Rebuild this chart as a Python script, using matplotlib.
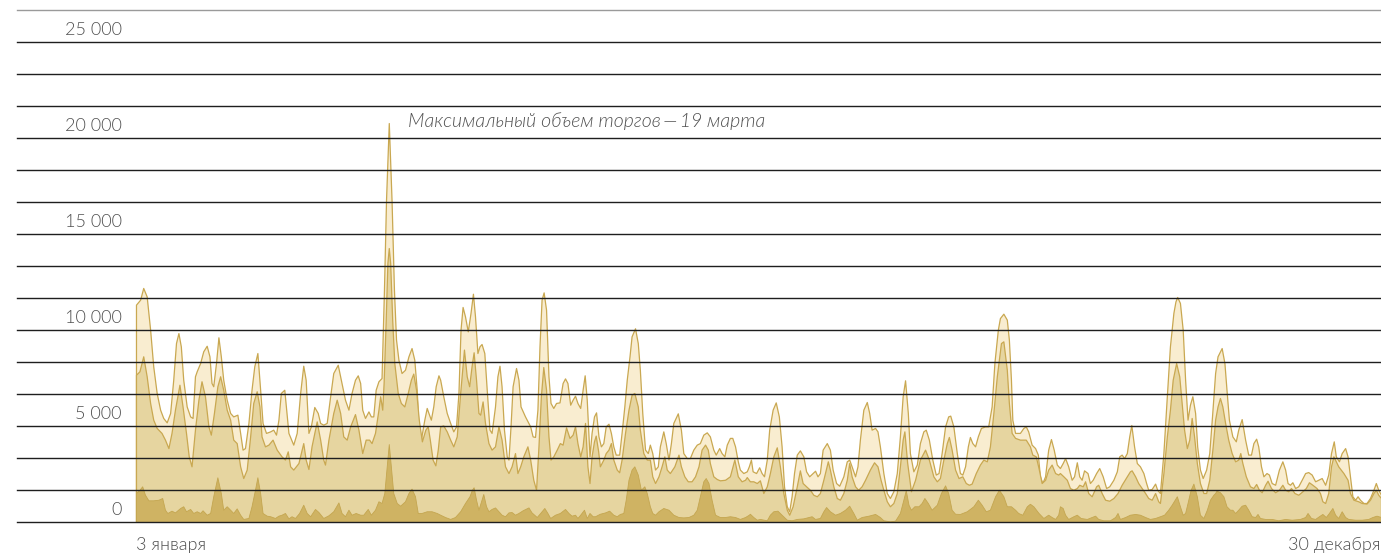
import matplotlib
matplotlib.use("Agg")
import matplotlib.pyplot as plt
import matplotlib.transforms as mtransforms

# days counted from 3 January, volumes
light_days = [0.0, 1.2, 2.1, 3.1, 4.1, 5.0, 6.0, 7.0, 7.9, 8.9, 9.9, 10.8, 11.6, 12.3, 13.0, 13.7, 14.7, 15.7, 16.4, 17.1,
              17.6, 18.6, 19.5, 20.5, 21.3, 21.9, 22.4, 23.2, 23.9, 24.6, 25.3, 26.3, 27.3, 28.2, 29.4, 30.2, 30.9, 31.6, 32.6, 33.5,
              34.3, 35.2, 36.0, 36.7, 37.7, 38.9, 39.8, 40.6, 41.3, 42.0, 43.0, 44.2, 45.6, 46.6, 47.6, 48.5, 49.2, 50.0, 50.7, 51.7,
              52.7, 53.4, 54.3, 55.3, 56.3, 57.2, 58.5, 59.4, 60.6, 61.6, 62.5, 63.5, 64.3, 65.0, 65.6, 66.4, 67.4, 68.1, 68.8, 69.5,
              70.3, 71.2, 71.9, 72.5, 73.3, 74.1, 74.8, 75.4, 76.1, 77.0, 78.0, 79.0, 79.9, 80.7, 81.4, 81.9, 82.6, 83.6, 84.3, 84.8,
              85.5, 86.2, 86.9, 87.7, 88.2, 89.1, 90.1, 91.1, 92.0, 92.8, 93.5, 94.1, 94.7, 95.4, 96.2, 97.0, 97.7, 98.3, 99.0, 99.6,
              100.2, 101.0, 101.7, 102.5, 103.1, 104.1, 104.8, 105.4, 106.0, 106.7, 107.5, 108.0, 108.6, 109.2, 110.2, 110.9, 111.5, 112.8, 114.3, 115.0,
              115.7, 116.4, 117.0, 117.6, 118.2, 118.9, 119.6, 120.2, 121.0, 121.8, 122.8, 123.7, 124.4, 125.1, 125.9, 126.6, 127.3, 128.0, 128.8, 129.5,
              130.1, 130.7, 131.5, 132.1, 132.8, 133.4, 134.1, 134.8, 135.5, 136.2, 137.0, 137.7, 138.4, 139.1, 140.1, 140.8, 141.6, 142.3, 143.1, 143.7,
              144.7, 145.5, 146.1, 146.8, 147.6, 148.4, 149.0, 149.7, 150.5, 151.3, 151.9, 152.9, 153.6, 154.4, 155.1, 155.8, 157.1, 158.0, 158.7, 159.7,
              160.6, 161.6, 162.6, 163.5, 164.5, 165.5, 166.4, 167.4, 168.1, 169.1, 169.8, 170.6, 171.3, 172.2, 172.9, 173.7, 174.5, 175.1, 176.1, 177.1,
              177.7, 178.3, 178.8, 179.8, 180.7, 181.4, 182.1, 182.9, 183.6, 184.6, 185.5, 186.4, 187.2, 187.9, 188.7, 189.4, 190.1, 190.8, 191.6, 192.5,
              193.5, 194.3, 195.2, 196.2, 196.9, 197.6, 198.3, 199.1, 200.3, 201.2, 202.0, 203.0, 203.9, 205.1, 206.1, 206.8, 207.5, 208.5, 209.2, 209.9,
              210.9, 211.9, 212.6, 213.3, 214.3, 215.0, 215.7, 216.7, 217.7, 218.6, 219.6, 220.6, 221.5, 222.3, 223.0, 223.8, 224.4, 225.4, 226.4, 227.3,
              228.3, 229.0, 229.9, 230.9, 231.9, 232.7, 233.6, 234.6, 235.5, 236.1, 237.0, 238.0, 238.9, 239.6, 240.4, 241.2, 241.8, 242.5, 243.3, 244.1,
              245.0, 246.2, 247.1, 248.1, 248.9, 249.9, 250.5, 251.5, 252.5, 253.1, 253.7, 254.1, 254.9, 256.3, 257.3, 258.0, 258.7, 259.7, 260.7, 261.5,
              262.1, 262.8, 263.6, 264.5, 265.3, 266.1, 267.0, 267.9, 268.7, 269.4, 270.3, 271.3, 272.0, 272.8, 273.5, 274.2, 274.9, 275.9, 276.6, 277.4,
              278.4, 279.3, 280.3, 281.3, 282.2, 283.4, 284.4, 285.1, 285.8, 286.5, 287.3, 288.0, 288.6, 289.4, 290.2, 291.1, 292.1, 292.9, 293.5, 294.5,
              295.5, 296.1, 296.9, 297.9, 298.9, 299.8, 300.8, 301.4, 301.9, 302.7, 303.5, 304.2, 304.9, 305.6, 306.3, 307.1, 307.7, 308.5, 309.3, 310.3,
              311.2, 312.0, 312.9, 313.6, 314.8, 315.6, 316.2, 316.9, 317.9, 318.9, 319.6, 320.6, 321.6, 322.5, 323.3, 324.0, 324.8, 325.4, 326.2, 326.9,
              327.8, 328.5, 329.3, 330.3, 331.4, 332.4, 333.2, 333.9, 334.6, 335.3, 336.1, 337.0, 338.0, 339.0, 339.9, 340.9, 341.9, 342.8, 343.8, 344.8,
              345.7, 346.5, 347.3, 347.9, 348.8, 349.6, 350.6, 351.3, 352.0, 352.7, 353.5, 354.2, 354.9, 355.9, 356.8, 357.8, 358.8, 359.5, 360.2, 361.0]
light_vol = [11320, 11580, 12190, 11750, 10020, 8110, 6720, 5850, 5420, 5190, 5680, 7410, 9320, 9840, 9150, 7410, 6020, 5500, 5420, 7590,
             7850, 8280, 8890, 9180, 8630, 7240, 7070, 8280, 9620, 8630, 7410, 6370, 5680, 5500, 5590, 4640, 3770, 3850, 5160, 6890,
             8110, 8800, 6890, 5160, 4640, 4720, 4810, 4550, 5330, 6720, 6890, 4640, 4030, 4640, 6720, 8140, 7410, 4640, 4980, 5990,
             5680, 5160, 5070, 5160, 6550, 7760, 8190, 7410, 6370, 5850, 6720, 7410, 7640, 7240, 5850, 5420, 5760, 5500, 5500, 6890,
             7330, 7500, 12080, 16770, 20780, 16770, 12080, 9500, 8450, 7760, 7930, 8630, 9060, 8450, 6890, 4980, 4290, 5330, 5940, 5680,
             5330, 6020, 7070, 7640, 7410, 6550, 5680, 5160, 4720, 4980, 6720, 10020, 11200, 10710, 9930, 10890, 11890, 10710, 8800, 9150,
             9270, 8800, 6890, 4810, 4640, 6020, 7590, 8140, 7070, 4810, 3420, 3250, 4980, 7070, 8020, 7410, 6020, 5500, 4980, 4460,
             4430, 5850, 9150, 11580, 11960, 11060, 7590, 6200, 5940, 6200, 6230, 7240, 7480, 7240, 6110, 6370, 6580, 6200, 5940, 6890,
             7640, 6370, 3420, 4640, 5500, 5710, 4460, 3940, 4110, 4980, 5120, 4640, 3940, 3510, 3510, 4640, 6020, 7410, 8630, 9670,
             10090, 9320, 7930, 5680, 3770, 3590, 4030, 3590, 2730, 2900, 3940, 4720, 4110, 3250, 4110, 5160, 5660, 4810, 3590, 3330,
             3330, 3770, 4030, 4110, 4550, 4670, 4460, 3770, 3510, 3850, 3590, 3420, 4030, 4380, 4380, 3940, 3160, 2730, 2550, 2640,
             2900, 3250, 2640, 2550, 2850, 2550, 2380, 3250, 4810, 5850, 6230, 5500, 3940, 1860, 820, 560, 1340, 2550, 3510, 3730,
             3420, 2640, 2380, 2550, 2670, 2380, 2550, 3770, 4110, 3770, 2730, 2030, 1890, 2380, 3160, 3250, 2900, 2380, 2900, 4290,
             5850, 6250, 5680, 4810, 4900, 4720, 3940, 2550, 1510, 1250, 1600, 2550, 4460, 6550, 7380, 5680, 3590, 2640, 2990, 4110,
             4720, 4810, 4290, 3250, 2470, 2550, 3590, 4980, 5500, 5540, 4980, 3590, 2550, 2470, 2900, 3940, 4430, 4110, 3940, 4460,
             4900, 4980, 4980, 6020, 8280, 10020, 10620, 10850, 10540, 9500, 7410, 5330, 4640, 4640, 4900, 4980, 4720, 4030, 3850, 3510,
             2380, 2030, 2380, 3770, 4320, 3770, 2990, 2810, 3070, 3330, 2900, 2200, 2380, 3110, 2380, 2200, 2690, 2550, 2030, 2200,
             2550, 2810, 2380, 1770, 1860, 2200, 2640, 3420, 3510, 3330, 3590, 4460, 5050, 3940, 3070, 2900, 2550, 2030, 1680, 1720,
             2000, 1680, 1510, 3590, 6550, 9150, 10890, 11490, 11720, 11410, 10020, 7410, 5330, 6110, 6550, 5680, 3940, 2730, 2290, 2730,
             3590, 5500, 7760, 8630, 9060, 8280, 6890, 5330, 4460, 4200, 4810, 5360, 4290, 3510, 3510, 4110, 4340, 3940, 2900, 2380,
             2550, 2470, 2030, 1940, 2730, 3160, 2730, 2030, 1940, 2070, 1770, 1860, 2200, 2550, 2600, 2470, 2120, 2200, 2290, 1940,
             2470, 3590, 4200, 3420, 3160, 3590, 3850, 3420, 2380, 1340, 1160, 1340, 1160, 990, 990, 1250, 1680, 2030, 1680, 1420]

mid_days = [0.0, 1.0, 2.1, 3.1, 4.1, 5.0, 6.0, 7.4, 8.4, 9.4, 10.3, 11.3, 12.6, 13.5, 14.5, 15.3, 16.1, 17.1, 18.1, 19.0,
            20.0, 21.0, 21.7, 22.6, 23.6, 24.4, 25.3, 26.3, 27.3, 28.2, 29.2, 30.2, 31.1, 32.1, 33.1, 34.0, 35.0, 35.8, 36.4, 37.4,
            38.4, 39.6, 40.8, 42.2, 43.2, 44.0, 44.7, 45.6, 47.1, 48.5, 49.2, 50.0, 50.9, 52.4, 53.4, 54.3, 54.8, 55.8, 57.2, 58.2,
            59.2, 60.1, 61.1, 62.1, 63.5, 64.5, 65.6, 66.6, 67.6, 68.3, 69.3, 70.3, 70.8, 71.4, 71.8, 72.4, 72.9, 73.3, 73.7, 74.3,
            74.9, 75.9, 76.8, 77.8, 78.8, 79.7, 80.4, 81.2, 82.0, 82.9, 83.9, 84.6, 85.2, 86.0, 86.8, 87.5, 88.2, 89.1, 90.1, 91.1,
            92.0, 93.0, 94.0, 95.1, 95.9, 96.6, 97.3, 97.9, 98.6, 99.3, 99.8, 100.5, 101.2, 102.2, 103.1, 104.1, 105.1, 106.0, 107.0, 108.0,
            108.9, 109.9, 110.6, 111.4, 112.3, 113.5, 114.3, 115.2, 116.0, 116.7, 117.4, 118.1, 118.9, 119.6, 120.2, 121.0, 122.0, 122.9, 123.7, 124.7,
            125.7, 126.6, 127.3, 128.0, 128.8, 129.5, 130.2, 130.9, 131.5, 132.1, 132.8, 133.3, 134.0, 134.5, 135.5, 136.2, 137.0, 137.7, 138.4, 139.4,
            140.1, 140.8, 141.8, 142.8, 143.7, 144.5, 145.5, 146.1, 147.1, 148.1, 149.0, 149.7, 150.5, 151.5, 152.4, 153.2, 153.9, 154.8, 156.1, 157.3,
            158.0, 159.0, 160.0, 161.1, 162.1, 163.1, 164.0, 165.0, 165.8, 166.4, 167.4, 168.4, 169.3, 170.8, 172.2, 173.5, 174.5, 175.6, 176.6, 177.1,
            178.0, 179.0, 180.0, 180.9, 181.9, 182.9, 183.8, 184.8, 185.8, 186.7, 187.7, 188.7, 189.4, 190.4, 191.6, 192.5, 193.3, 194.3, 195.4, 196.4,
            197.4, 198.3, 199.3, 200.6, 201.2, 202.2, 203.2, 204.1, 205.1, 206.1, 206.8, 207.5, 208.5, 209.4, 210.4, 211.4, 212.8, 214.0, 215.0, 215.9,
            216.7, 217.7, 218.6, 219.6, 220.6, 221.5, 222.3, 222.8, 223.6, 224.7, 225.9, 227.3, 228.8, 229.9, 231.2, 232.2, 233.1, 234.1, 235.1, 235.7,
            236.5, 237.5, 238.5, 239.6, 240.6, 241.5, 242.3, 243.5, 244.7, 245.7, 246.7, 247.6, 248.6, 249.6, 250.8, 251.5, 252.5, 253.1, 253.9, 254.9,
            256.3, 258.0, 259.2, 259.9, 260.9, 261.7, 262.6, 263.6, 264.5, 265.5, 266.5, 267.4, 267.9, 268.9, 269.9, 270.8, 271.8, 272.8, 273.5, 274.5,
            275.2, 276.1, 277.1, 278.4, 279.0, 280.0, 281.0, 282.2, 283.4, 284.6, 285.8, 287.3, 288.2, 288.7, 289.7, 290.6, 291.6, 292.6, 293.5, 294.5,
            295.5, 296.4, 296.9, 297.9, 298.9, 299.8, 300.6, 301.6, 302.5, 303.2, 303.9, 304.7, 305.4, 306.1, 306.8, 307.6, 308.5, 309.5, 310.3, 311.2,
            312.2, 312.9, 313.6, 314.3, 315.0, 315.8, 316.7, 317.7, 318.7, 319.6, 320.2, 320.8, 321.8, 323.0, 324.0, 324.8, 325.6, 326.4, 327.4, 328.1,
            329.1, 330.3, 331.4, 332.4, 333.2, 334.1, 334.9, 335.9, 337.0, 338.2, 339.2, 340.1, 341.1, 342.3, 343.3, 344.0, 344.8, 345.7, 346.5, 347.2,
            348.6, 350.1, 351.3, 352.0, 353.0, 354.4, 355.4, 356.8, 357.8, 358.8, 359.5, 360.2, 361.0]
mid_vol = [7670, 7850, 8630, 7590, 6200, 5330, 4900, 4640, 4290, 3850, 4640, 5850, 7150, 6020, 4640, 3420, 2900, 4810, 6370, 7330,
           6550, 4980, 4550, 5680, 7070, 7590, 6890, 5850, 5330, 4290, 4110, 2900, 2290, 2730, 4460, 6200, 6810, 6020, 4460, 3940,
           4030, 4290, 3770, 3420, 3250, 3680, 2900, 2730, 3070, 4110, 3250, 2760, 3940, 5240, 4290, 3250, 2990, 4290, 5680, 6370,
           5680, 4460, 4290, 4980, 5620, 4810, 3590, 4290, 4290, 4110, 4640, 5850, 6550, 5850, 7240, 10500, 13500, 14270, 13500, 10500,
           8280, 6720, 6200, 6020, 6720, 7410, 7730, 6890, 5330, 4200, 4810, 4980, 4290, 3250, 2950, 3770, 4980, 5030, 4720, 4290,
           3940, 4460, 6720, 8980, 7590, 7070, 8110, 8840, 7410, 5680, 5590, 6280, 5160, 4110, 3770, 3940, 4980, 4290, 2900, 2550,
           2900, 3590, 2550, 2900, 3420, 3940, 3250, 2200, 1680, 3940, 6550, 8070, 6890, 4460, 3250, 3420, 3770, 4110, 4030, 4930,
           4380, 4550, 4980, 4110, 3420, 3940, 5160, 2900, 2030, 3420, 4200, 4500, 3700, 2900, 3250, 3590, 3770, 4110, 3250, 2730,
           2590, 3250, 4640, 5850, 6630, 6720, 6020, 4810, 3590, 3250, 3250, 2380, 2030, 2380, 2900, 3420, 2730, 2550, 2900, 3510,
           2900, 2380, 2120, 2120, 2380, 2900, 3770, 4030, 3770, 3070, 2380, 2240, 2170, 2200, 2380, 3250, 2380, 2120, 2200, 2340,
           2120, 2120, 2030, 2170, 1510, 1860, 2550, 3420, 3890, 2900, 1510, 640, 380, 820, 1860, 2690, 2030, 1860, 1680, 1420,
           1340, 1510, 2200, 3160, 2730, 1860, 1250, 1160, 1510, 2200, 3070, 2380, 1860, 1680, 1860, 2200, 2730, 3110, 2900, 2200,
           1680, 1080, 820, 990, 1510, 2900, 4290, 4720, 3100, 1600, 2200, 3250, 3770, 3250, 2380, 2120, 2290, 3250, 4110, 4430,
           3770, 2730, 2290, 2380, 2030, 1940, 2000, 2550, 2990, 3250, 3160, 3940, 5680, 7590, 9320, 9410, 7930, 6200, 4640, 4380,
           4290, 4290, 3940, 3510, 3420, 2810, 2030, 2200, 2730, 2990, 2550, 2470, 2550, 2380, 2200, 1770, 1680, 1770, 1940, 1860,
           2120, 1510, 1340, 1860, 1940, 1510, 1160, 1110, 1250, 1510, 1940, 2380, 2640, 2690, 2380, 2030, 1770, 1510, 1250, 1160,
           1510, 1080, 990, 2550, 4460, 5850, 7410, 8280, 7590, 6200, 4810, 3850, 4290, 5420, 4460, 3070, 2030, 1510, 1510, 2200,
           3940, 5330, 6020, 6460, 6020, 5160, 4290, 3590, 3160, 3250, 3590, 3070, 2380, 1860, 1770, 1980, 1680, 1550, 1940, 2150,
           1770, 1550, 1680, 1940, 1680, 1600, 1770, 1510, 1420, 1600, 1770, 2070, 1940, 1770, 1510, 1080, 990, 1510, 2900, 3420,
           2900, 2550, 2200, 1510, 1160, 1080, 990, 960, 1160, 1510, 1680, 1420, 1250]

dark_days = [0.0, 1.0, 1.8, 2.6, 3.6, 5.0, 6.5, 7.6, 8.4, 9.1, 10.3, 11.3, 12.8, 13.7, 14.5, 15.7, 16.6, 17.6, 18.6, 19.3,
             20.5, 21.5, 22.4, 23.6, 24.6, 25.3, 26.3, 27.3, 28.2, 29.2, 30.2, 31.1, 32.6, 33.5, 34.5, 35.2, 36.0, 36.7, 37.9, 38.9,
             40.3, 41.3, 42.2, 43.2, 44.2, 45.1, 46.1, 47.3, 48.5, 49.5, 50.5, 51.9, 52.9, 54.3, 55.8, 57.2, 58.7, 59.6, 60.6, 61.6,
             62.5, 63.7, 65.0, 65.9, 67.2, 68.1, 69.3, 70.3, 71.2, 72.0, 72.7, 73.3, 73.9, 74.6, 75.6, 76.6, 78.0, 79.0, 79.9, 80.9,
             81.7, 82.8, 84.3, 85.7, 87.2, 88.2, 89.6, 91.1, 92.5, 94.0, 95.4, 96.7, 97.4, 97.9, 98.6, 99.3, 99.9, 100.7, 101.5, 102.2,
             103.1, 104.1, 105.1, 106.0, 107.0, 108.0, 108.9, 109.9, 110.9, 112.1, 113.8, 114.7, 116.2, 117.2, 118.4, 119.3, 120.1, 121.5, 122.9, 124.4,
             125.4, 126.3, 127.3, 128.0, 128.8, 129.9, 130.7, 131.5, 132.4, 133.1, 134.5, 136.0, 137.2, 138.4, 139.4, 140.3, 141.3, 142.0, 142.8, 143.7,
             144.5, 145.5, 146.4, 147.4, 148.1, 149.0, 149.7, 150.5, 151.5, 152.9, 154.4, 155.8, 157.3, 158.7, 160.2, 161.6, 162.6, 163.5, 164.5, 165.2,
             166.0, 166.9, 167.9, 169.3, 170.8, 172.2, 173.7, 175.1, 176.6, 177.7, 178.0, 179.0, 180.0, 180.9, 182.9, 183.8, 184.8, 186.0, 187.2, 188.7,
             190.1, 191.6, 193.5, 195.9, 196.9, 198.3, 199.3, 200.1, 201.2, 202.7, 204.1, 205.6, 206.8, 208.0, 209.0, 210.4, 212.4, 214.3, 215.7, 216.7,
             218.6, 220.1, 221.5, 222.5, 223.2, 224.0, 224.7, 225.7, 226.9, 227.8, 228.6, 229.6, 230.7, 232.2, 233.4, 234.6, 235.5, 236.5, 237.5, 238.9,
             240.9, 242.8, 244.1, 245.2, 246.4, 247.6, 249.1, 250.2, 251.5, 252.5, 253.7, 254.9, 255.8, 257.0, 258.3, 259.2, 260.2, 261.7, 263.1, 264.5,
             265.5, 266.5, 267.4, 267.9, 268.7, 269.4, 270.3, 271.8, 272.8, 273.9, 275.7, 277.1, 278.1, 279.0, 280.5, 282.4, 283.9, 284.6, 285.3, 286.8,
             288.2, 289.7, 291.1, 292.6, 294.0, 295.5, 296.9, 298.1, 299.3, 300.3, 301.8, 302.7, 303.5, 304.2, 304.9, 305.8, 306.6, 307.6, 308.5, 309.5,
             310.5, 311.4, 312.4, 312.9, 313.3, 314.3, 315.3, 316.2, 317.2, 317.9, 318.7, 319.6, 320.6, 321.6, 322.5, 323.5, 324.5, 325.2, 325.9, 327.4,
             329.3, 331.2, 333.2, 335.1, 337.5, 339.0, 339.7, 340.7, 341.9, 343.0, 344.0, 345.0, 345.9, 346.9, 347.7, 348.6, 349.6, 350.6, 351.5, 353.5,
             355.4, 357.3, 358.5, 359.7, 361.0]
dark_vol = [1510, 1680, 1860, 1420, 1130, 1130, 1160, 1250, 640, 470, 590, 500, 730, 820, 560, 680, 470, 560, 470, 610,
            380, 470, 1340, 2330, 1510, 640, 820, 640, 470, 710, 380, 160, 210, 820, 1680, 2330, 1510, 470, 330, 300,
            210, 330, 380, 470, 190, 300, 210, 470, 900, 470, 300, 680, 520, 210, 350, 560, 1020, 470, 300, 640,
            380, 470, 380, 380, 680, 380, 640, 1080, 990, 1510, 2900, 4060, 2900, 1510, 990, 850, 1080, 1510, 1740, 1340,
            470, 470, 560, 560, 470, 380, 260, 160, 260, 560, 990, 1340, 1680, 1810, 1160, 640, 990, 1460, 820, 560,
            680, 760, 560, 380, 300, 500, 520, 380, 470, 610, 760, 500, 260, 470, 730, 470, 210, 380, 470, 680,
            470, 330, 380, 210, 380, 640, 210, 470, 300, 300, 430, 500, 590, 380, 300, 420, 470, 1160, 2200, 2730,
            2900, 2470, 1680, 1860, 1510, 820, 470, 380, 560, 730, 640, 380, 260, 240, 260, 380, 640, 1340, 2120, 2290,
            2030, 1160, 380, 260, 260, 300, 260, 160, 260, 380, 430, 260, 120, 160, 90, 380, 560, 590, 380, 120,
            90, 160, 190, 300, 160, 210, 560, 780, 560, 380, 470, 640, 850, 470, 120, 260, 330, 420, 260, 90,
            35, 70, 470, 1160, 1650, 900, 640, 820, 820, 990, 1250, 990, 640, 900, 1510, 1910, 1510, 640, 430, 420,
            560, 820, 1160, 900, 560, 640, 1340, 1680, 1340, 820, 820, 640, 470, 380, 820, 950, 820, 470, 210, 380,
            260, 160, 380, 820, 730, 380, 160, 300, 380, 210, 160, 260, 330, 160, 90, 90, 260, 470, 160, 260,
            380, 420, 380, 260, 160, 210, 300, 380, 640, 900, 1340, 820, 380, 470, 990, 1680, 2000, 1340, 380, 210,
            640, 1160, 1420, 1510, 1630, 1550, 1340, 820, 640, 640, 470, 640, 850, 900, 640, 300, 260, 420, 210, 160,
            160, 90, 160, 120, 160, 260, 470, 210, 160, 300, 420, 260, 470, 730, 380, 210, 560, 260, 160, 120,
            120, 160, 260, 330, 260]

y_ticks = [0, 5000, 10000, 15000, 20000, 25000]
date_labels = ["3 января", "30 декабря"]
note = "Максимальный объем торгов\u2009—\u200919 марта"
note_day = 78.9
note_level = 20560

fonts = ['Lato', 'DejaVu Sans']
txt_color = '#505050'
edge = '#C9A851'

fig = plt.figure(figsize=(13.81, 5.53), dpi=100)
ax = fig.add_axes([17 / 1381, 31 / 553, 1364 / 1381, 512 / 553])
ax.set_xlim(-34.5, 361)
ax.set_ylim(0, 16 * 5000 / 3)
ax.axis('off')

ax.fill_between(light_days, light_vol, 0, facecolor='#F9EDD0', edgecolor=edge, linewidth=0.9, zorder=1)
ax.fill_between(mid_days, mid_vol, 0, facecolor='#E6D5A0', edgecolor=edge, linewidth=0.9, zorder=2)
ax.fill_between(dark_days, dark_vol, 0, facecolor='#CFB363', edgecolor='#C4A650', linewidth=0.6, zorder=3)

# gridlines every third of 5000, drawn over the areas
for i in range(17):
    col = '#9a9a9a' if i == 16 else '#1e1e1e'
    ax.axhline(i * 5000 / 3, color=col, linewidth=1.0, zorder=5, clip_on=False)

for v in y_ticks:
    ax.text(-4.1, v + 365, f"{v:,}".replace(",", " "), ha='right', va='baseline',
            fontsize=13, color=txt_color, family=fonts, fontweight=300, zorder=6)

trans = mtransforms.blended_transform_factory(ax.transData, ax.transAxes)
ax.text(0, -0.055, date_labels[0], transform=trans, ha='left', va='baseline',
        fontsize=13, color=txt_color, family=fonts, fontweight=300)
ax.text(361, -0.055, date_labels[1], transform=trans, ha='right', va='baseline',
        fontsize=13, color=txt_color, family=fonts, fontweight=300)

ax.text(note_day, note_level, note, ha='left', va='baseline', fontsize=14, style='italic',
        color=txt_color, family=fonts, fontweight=300, zorder=6)

fig.savefig("out.png", dpi=100, facecolor='white')
